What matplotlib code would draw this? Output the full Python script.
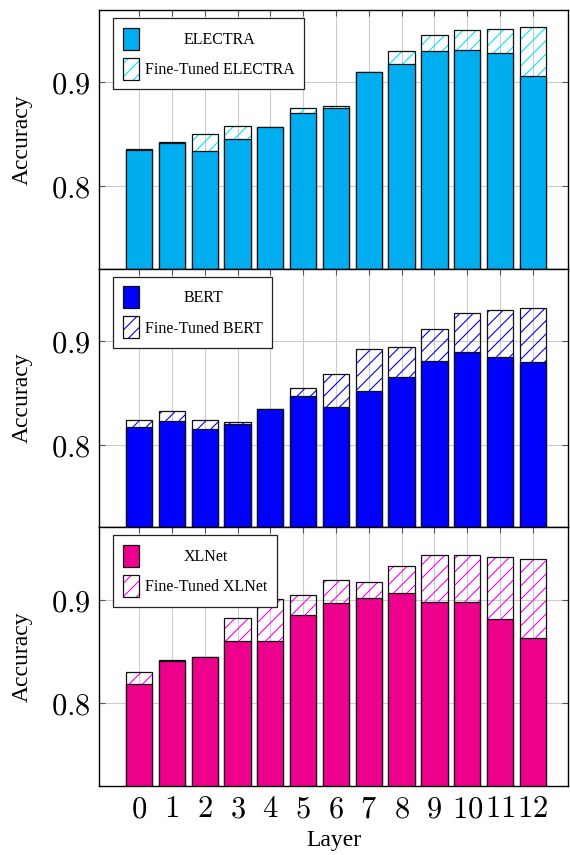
import numpy as np
import matplotlib
matplotlib.use("Agg")
import matplotlib.pyplot as plt
from matplotlib.patches import Patch

# drawn at 80 dpi so that the '//' hatch gets about the same spacing as the original;
# K scales point sizes back to what they would be at 100 dpi
DPI = 80
K = 100 / DPI

plt.rcParams['mathtext.fontset'] = 'cm'
plt.rcParams['hatch.linewidth'] = 0.8 * K

layers = list(range(13))

electra_base = [0.835, 0.841, 0.834, 0.845, 0.857, 0.870, 0.875, 0.910, 0.918, 0.930, 0.931, 0.928, 0.906]
electra_ft = [0.836, 0.842, 0.850, 0.858, 0.857, 0.875, 0.877, 0.910, 0.930, 0.946, 0.951, 0.952, 0.954]
bert_base = [0.817, 0.823, 0.815, 0.820, 0.834, 0.847, 0.836, 0.852, 0.865, 0.881, 0.889, 0.885, 0.880]
bert_ft = [0.824, 0.832, 0.824, 0.822, 0.834, 0.855, 0.868, 0.892, 0.894, 0.912, 0.927, 0.930, 0.932]
xlnet_base = [0.819, 0.841, 0.845, 0.860, 0.860, 0.885, 0.897, 0.902, 0.907, 0.898, 0.898, 0.881, 0.863]
xlnet_ft = [0.830, 0.842, 0.845, 0.882, 0.901, 0.905, 0.919, 0.917, 0.933, 0.943, 0.943, 0.941, 0.939]

models = ['ELECTRA', 'BERT', 'XLNet']
base_colors = ['#00AEEF', '#0000FF', '#EC008C']
hatch_colors = ['#00E8FF', '#0000FF', '#FF00FF']

serif = 'Liberation Serif'


def draw_panel(ax, name, base, ft, color, hcolor):
    x = np.array(layers)
    # fine-tuned bar: hatch only, so the grid shows through
    ax.bar(x, ft, width=0.8, facecolor='none', edgecolor=hcolor, linewidth=0, hatch='//', zorder=2)
    ax.bar(x, ft, width=0.8, fill=False, edgecolor='#111111', linewidth=0.9 * K, zorder=3)
    ax.bar(x, base, width=0.8, color=color, edgecolor='#111111', linewidth=0.9 * K, zorder=4)

    ax.set_ylim(0.72, 0.97)
    ax.set_xlim(-1.22, 13.07)
    ax.set_yticks([0.8, 0.9], ['$0.8$', '$0.9$'])
    ax.grid(True, color='#cccccc', linewidth=0.8 * K, zorder=0)
    ax.set_axisbelow(True)
    ax.tick_params(direction='in', top=True, right=True, length=4 * K, width=0.8 * K,
                   color='#555555', labelsize=22 * K, pad=6 * K)
    for s in ax.spines.values():
        s.set_linewidth(1.0 * K)
        s.set_zorder(5)
    ax.set_ylabel('Accuracy', fontname=serif, fontsize=17 * K, labelpad=13 * K)

    h_base = Patch(facecolor=color, edgecolor='#111111', linewidth=0.9 * K)
    h_ft = (Patch(facecolor='white', edgecolor=hcolor, linewidth=0, hatch='//'),
            Patch(fill=False, edgecolor='#111111', linewidth=0.9 * K))
    leg = ax.legend([h_base, h_ft], [name, 'Fine-Tuned ' + name],
                    loc='upper left', bbox_to_anchor=(0.03, 0.969), borderaxespad=0,
                    prop={'family': serif, 'size': 11.5 * K}, fancybox=False, framealpha=1,
                    edgecolor='#222222', handlelength=1.05, handleheight=1.75,
                    handletextpad=0.35, labelspacing=0.5, borderpad=0.6)
    leg.get_frame().set_linewidth(0.9 * K)
    leg.set_zorder(10)
    return leg


fig, axes = plt.subplots(3, 1, figsize=(570 / DPI, 855 / DPI), dpi=DPI, sharex=True)
plt.subplots_adjust(left=0.1737, right=0.9965, top=0.9883, bottom=0.0807, hspace=0)

data = [(electra_base, electra_ft), (bert_base, bert_ft), (xlnet_base, xlnet_ft)]
legends = []
for ax, name, (b, f), c, hc in zip(axes, models, data, base_colors, hatch_colors):
    legends.append(draw_panel(ax, name, b, f, c, hc))

axes[-1].set_xticks(layers, ['$%d$' % i for i in layers])
axes[-1].set_xlabel('Layer', fontname=serif, fontsize=17 * K, labelpad=5 * K)

# centre the short legend label over the long one
fig.canvas.draw()
renderer = fig.canvas.get_renderer()
for leg in legends:
    texts = leg.get_texts()
    w = [t.get_window_extent(renderer).width for t in texts]
    texts[0].set_x((max(w) - w[0]) / 2)

fig.savefig('out.png', dpi=DPI)
